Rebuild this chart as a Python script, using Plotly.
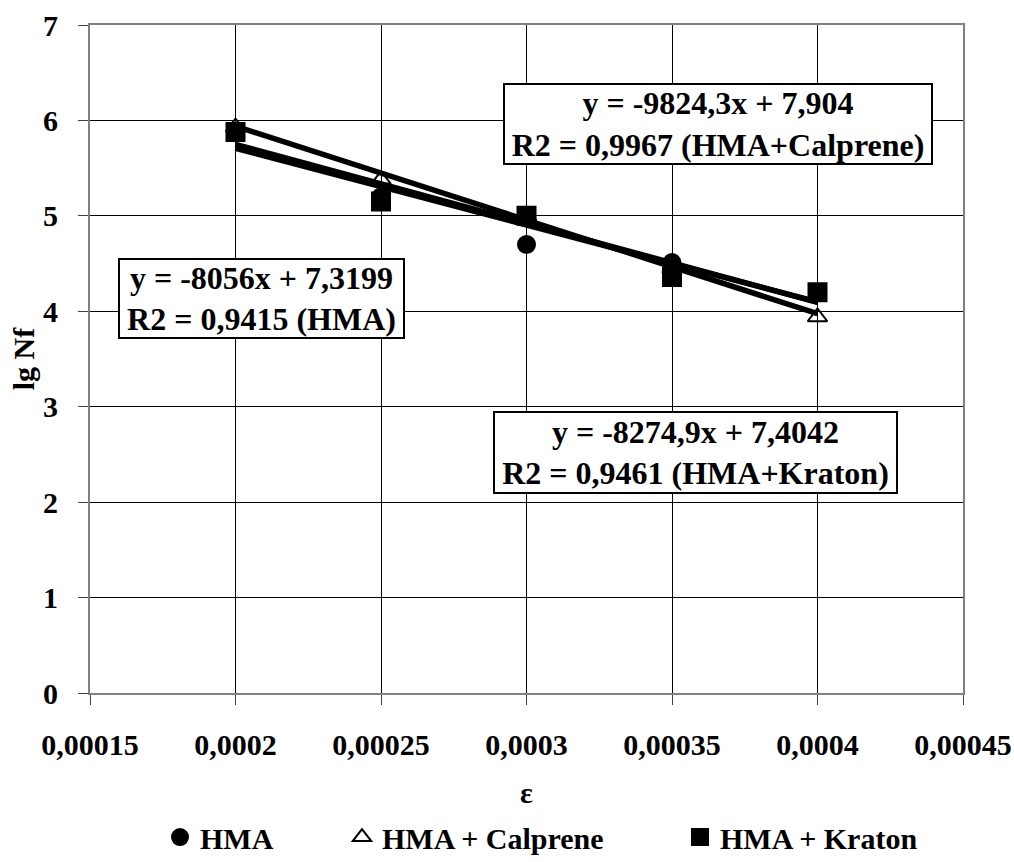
import plotly.graph_objects as go

# ---- data ----
strain = [0.0002, 0.00025, 0.0003, 0.00035, 0.0004]
hma = [5.88, 5.20, 4.70, 4.51, 4.20]
calprene = [5.93, 5.38, 5.00, 4.45, 3.94]
kraton = [5.88, 5.15, 5.00, 4.36, 4.20]

series_names = ["HMA", "HMA + Calprene", "HMA + Kraton"]
slopes = [-8056.0, -9824.3, -8274.9]
intercepts = [7.3199, 7.904, 7.4042]
fit_labels = [
    "y = -8056x + 7,3199<br>R2 = 0,9415 (HMA)",
    "y = -9824,3x + 7,904<br>R2 = 0,9967 (HMA+Calprene)",
    "y = -8274,9x + 7,4042<br>R2 = 0,9461 (HMA+Kraton)",
]
x_ticks = [0.00015, 0.0002, 0.00025, 0.0003, 0.00035, 0.0004, 0.00045]
y_ticks = [0, 1, 2, 3, 4, 5, 6, 7]

FONT = "Liberation Serif"

fig = go.Figure()

symbols = ["circle", "triangle-up-open", "square"]
sizes = [17, 17, 18]
legends = ["legend", "legend2", "legend3"]
for name, ys, sym, sz, lg in zip(series_names, [hma, calprene, kraton], symbols, sizes, legends):
    fig.add_trace(go.Scatter(
        x=strain, y=ys, mode="markers", name="<b>" + name + "</b>", legend=lg,
        marker=dict(symbol=sym, size=sz, color="black",
                    line=dict(color="black", width=2)),
    ))

# trend lines
x0, x1 = min(strain), max(strain)
for a, b in zip(slopes, intercepts):
    fig.add_trace(go.Scatter(
        x=[x0, x1], y=[a * x0 + b, a * x1 + b], mode="lines",
        line=dict(color="black", width=5.5), showlegend=False, hoverinfo="skip",
    ))

# equation boxes: (x, y, box text width, box text height)
ann_pos = [(0.00020893, 4.134, 283, 77),
           (0.00036581, 5.962, 426, 78),
           (0.00035808, 2.520, 401, 79)]
for txt, (ax, ay, w, h) in zip(fit_labels, ann_pos):
    fig.add_annotation(
        x=ax, y=ay, xref="x", yref="y",
        text="<b>" + txt.replace("<br>", "</b><br><b>") + "</b>",
        showarrow=False,
        font=dict(family=FONT, size=32, color="black"),
        align="center", valign="middle", width=w, height=h,
        bgcolor="white", bordercolor="black",
        borderwidth=2, borderpad=0,
    )

leg_common = dict(orientation="h", y=-0.2156, yanchor="middle", xanchor="left",
                  font=dict(size=30, family=FONT, color="black"),
                  bgcolor="rgba(0,0,0,0)")
fig.update_layout(
    width=1014, height=862,
    margin=dict(l=90, r=51, t=25, b=169, autoexpand=False),
    paper_bgcolor="white", plot_bgcolor="white",
    separators=", ",
    font=dict(family=FONT, size=30, color="black"),
    legend=dict(x=(160 - 90) / 873, **leg_common),
    legend2=dict(x=(342 - 90) / 873, **leg_common),
    legend3=dict(x=(680 - 90) / 873, **leg_common),
)

fig.update_xaxes(
    range=[0.00015, 0.00045], tickvals=x_ticks,
    ticktext=["<b>" + f"{v:g}".replace(".", ",") + "</b>" for v in x_ticks],
    showgrid=True, gridcolor="black", gridwidth=1, zeroline=False,
    showline=True, linecolor="#808080", linewidth=2, mirror=True,
    ticks="outside", ticklen=10, tickcolor="#404040",
    ticklabelstandoff=14, automargin=False,
    tickfont=dict(family=FONT, size=30, color="black"),
    title=dict(text="<b>ε</b>", font=dict(family=FONT, size=30, color="black"), standoff=22),
)
fig.update_yaxes(
    range=[0, 7], tickvals=y_ticks,
    ticktext=[f"<b>{v}</b>" for v in y_ticks],
    showgrid=True, gridcolor="black", gridwidth=1, zeroline=False,
    showline=True, linecolor="#808080", linewidth=2, mirror=True,
    ticks="outside", ticklen=10, tickcolor="#404040",
    ticklabelstandoff=14, automargin=False,
    tickfont=dict(family=FONT, size=30, color="black"),
    title=dict(text="<b>lg Nf</b>", font=dict(family=FONT, size=30, color="black"), standoff=0),
)

fig.write_html("out.html", config={"displayModeBar": False},
               post_script="document.body.style.margin='0';")
